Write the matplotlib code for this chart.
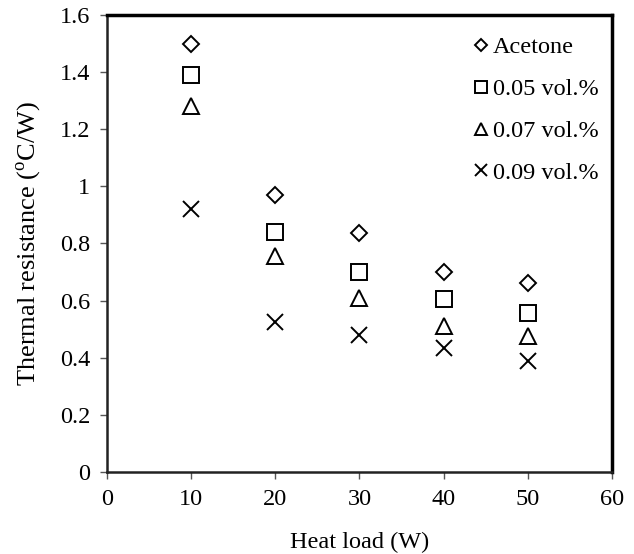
import numpy as np
import matplotlib.pyplot as plt

plt.rcParams['font.family'] = ['Liberation Serif', 'DejaVu Serif']
plt.rcParams['mathtext.fontset'] = 'custom'
plt.rcParams['mathtext.rm'] = 'Liberation Serif'

heat_load = [10, 20, 30, 40, 50]
acetone = [1.50, 0.97, 0.835, 0.70, 0.66]
vol_005 = [1.39, 0.84, 0.70, 0.605, 0.555]
vol_007 = [1.28, 0.755, 0.61, 0.51, 0.475]
vol_009 = [0.92, 0.525, 0.48, 0.435, 0.39]

fig = plt.figure(figsize=(6.34, 5.54), dpi=100)
ax = fig.add_axes([0.169, 0.148, 0.796, 0.825])

# hollow black markers, one style per fluid
ax.plot(heat_load, acetone, 'D', ms=8, mfc='none', mec='black', mew=1.4,
        ls='none', label='Acetone')
ax.plot(heat_load, vol_005, 's', ms=11, mfc='none', mec='black', mew=1.4,
        ls='none', label='0.05 vol.%')
ax.plot(heat_load, vol_007, '^', ms=11, mfc='none', mec='black', mew=1.4,
        ls='none', label='0.07 vol.%')
ax.plot(heat_load, vol_009, 'x', ms=11, mfc='none', mec='black', mew=1.4,
        ls='none', label='0.09 vol.%')

ax.set_xlim(0, 60)
ax.set_ylim(0, 1.6)
ax.set_xticks(np.arange(0, 61, 10))
ax.set_yticks(np.arange(0, 1.61, 0.2))
ax.set_yticklabels(['0', '0.2', '0.4', '0.6', '0.8', '1', '1.2', '1.4', '1.6'])
ax.tick_params(direction='out', length=5, width=1, color='#555555',
               labelsize=17.5, pad=7)
ax.set_xlabel('Heat load (W)', fontsize=17.5, labelpad=16)
ax.set_ylabel('Thermal resistance ($^{\\rm o}$C/W)', fontsize=19, labelpad=12)

for side in ['top', 'right']:
    ax.spines[side].set_linewidth(2.5)
for side in ['left', 'bottom']:
    ax.spines[side].set_linewidth(1.8)
    ax.spines[side].set_color('#222222')

leg = ax.legend(loc='upper right', frameon=False, fontsize=17.5,
                handlelength=0.5, handletextpad=0.25, labelspacing=0.82,
                markerscale=0.75, borderaxespad=0.0,
                bbox_to_anchor=(0.993, 0.975))

fig.savefig('out.png', dpi=100)
